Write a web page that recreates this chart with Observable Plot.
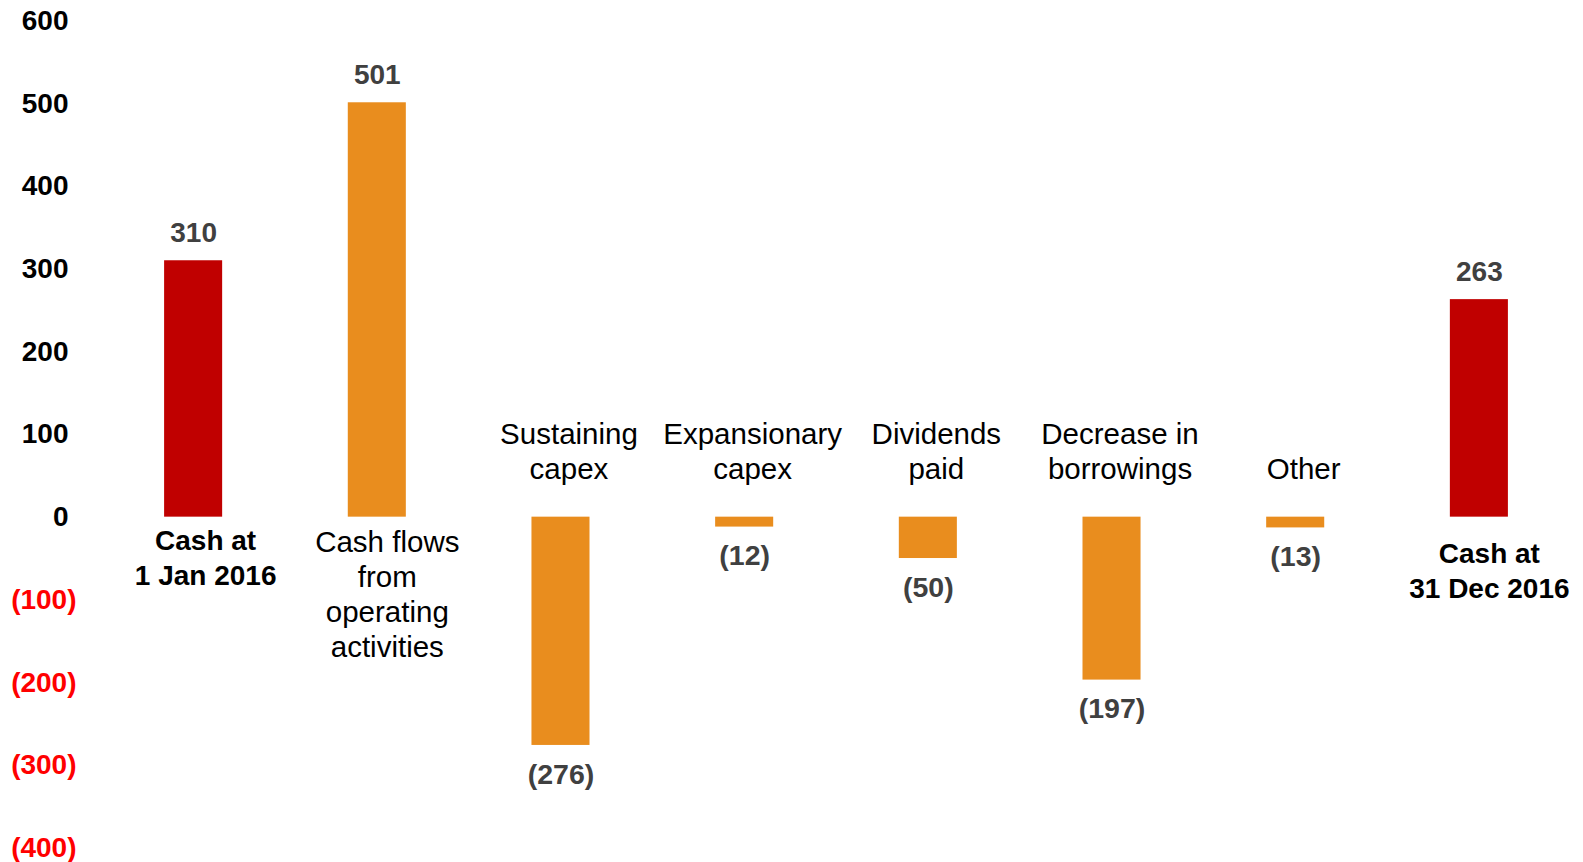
<!DOCTYPE html>
<html>
<head>
<meta charset="utf-8">
<script src="https://cdn.jsdelivr.net/npm/d3@7"></script>
<script src="https://cdn.jsdelivr.net/npm/@observablehq/plot@0.6"></script>
<style>
  html, body { margin: 0; padding: 0; background: #fff; }
  #chart svg { display: block; overflow: visible; }
</style>
</head>
<body>
<div id="chart"></div>
<script>
// ---- data ----
const categories = [
  "Cash at\n1 Jan 2016",
  "Cash flows\nfrom\noperating\nactivities",
  "Sustaining\ncapex",
  "Expansionary\ncapex",
  "Dividends\npaid",
  "Decrease in\nborrowings",
  "Other",
  "Cash at\n31 Dec 2016"
];
const values = [310, 501, -276, -12, -50, -197, -13, 263];
const kinds = ["total", "change", "change", "change", "change", "change", "change", "total"];
const yTicks = [-400, -300, -200, -100, 0, 100, 200, 300, 400, 500, 600];

// ---- table ----
const data = categories.map((c, i) => ({cat: c, value: values[i], kind: kinds[i], idx: i}));
const fmt = v => v < 0 ? `(${Math.abs(v)})` : `${v}`;
const colors = {total: "#C00000", change: "#E98D1E"};
const font = "'Liberation Sans', Arial, sans-serif";

const pos = data.filter(d => d.value >= 0);
const neg = data.filter(d => d.value < 0);
const last = data.length - 1;

const chart = Plot.plot({
  width: 1583,
  height: 862,
  marginLeft: 109,
  marginRight: 20,
  marginTop: 20.4,
  marginBottom: 14.5,
  style: {fontFamily: font, background: "#fff", overflow: "visible"},
  x: {type: "band", domain: categories, paddingInner: 0.684, paddingOuter: 0.3, round: false, axis: null},
  y: {domain: [-400, 600], axis: null},
  marks: [
    // bars
    Plot.barY(data, {x: "cat", y: "value", fill: d => colors[d.kind]}),
    // value labels
    Plot.text(pos, {
      x: "cat", y: "value", text: d => fmt(d.value),
      dy: -28, fontSize: 28, fontWeight: "bold", fill: "#404040"
    }),
    Plot.text(neg, {
      x: "cat", y: "value", text: d => fmt(d.value),
      dy: 29, fontSize: 28.5, fontWeight: "bold", fill: "#404040"
    }),
    // category labels: positive bars below zero, negative bars above zero
    Plot.text(pos.filter(d => d.kind === "total" && d.idx !== last), {
      x: "cat", y: () => 0, text: "cat",
      lineAnchor: "top", lineHeight: 1.25, dx: 12, dy: 8,
      fontSize: 28, fill: "#000", fontWeight: "bold"
    }),
    Plot.text(pos.filter(d => d.kind === "total" && d.idx === last), {
      x: "cat", y: () => 0, text: "cat",
      lineAnchor: "top", lineHeight: 1.25, dx: 10, dy: 21,
      fontSize: 28, fill: "#000", fontWeight: "bold"
    }),
    Plot.text(pos.filter(d => d.kind !== "total"), {
      x: "cat", y: () => 0, text: "cat",
      lineAnchor: "top", lineHeight: 1.19, dx: 10, dy: 10,
      fontSize: 29.5, fill: "#000", fontWeight: "normal"
    }),
    Plot.text(neg, {
      x: "cat", y: () => 0, text: "cat",
      lineAnchor: "bottom", lineHeight: 1.19, dx: 8, dy: -38,
      fontSize: 29.5, fill: "#000", fontWeight: "normal"
    }),
    // y tick labels
    Plot.text(yTicks.filter(t => t >= 0), {
      y: d => d, text: d => fmt(d), frameAnchor: "left",
      textAnchor: "end", dx: -41, dy: 0,
      fontSize: 28, fontWeight: "bold", fill: "#000"
    }),
    Plot.text(yTicks.filter(t => t < 0), {
      y: d => d, text: d => fmt(d), frameAnchor: "left",
      textAnchor: "end", dx: -33, dy: 0,
      fontSize: 28, fontWeight: "bold", fill: "#FF0000"
    })
  ]
});
document.getElementById("chart").appendChild(chart);
</script>
</body>
</html>
